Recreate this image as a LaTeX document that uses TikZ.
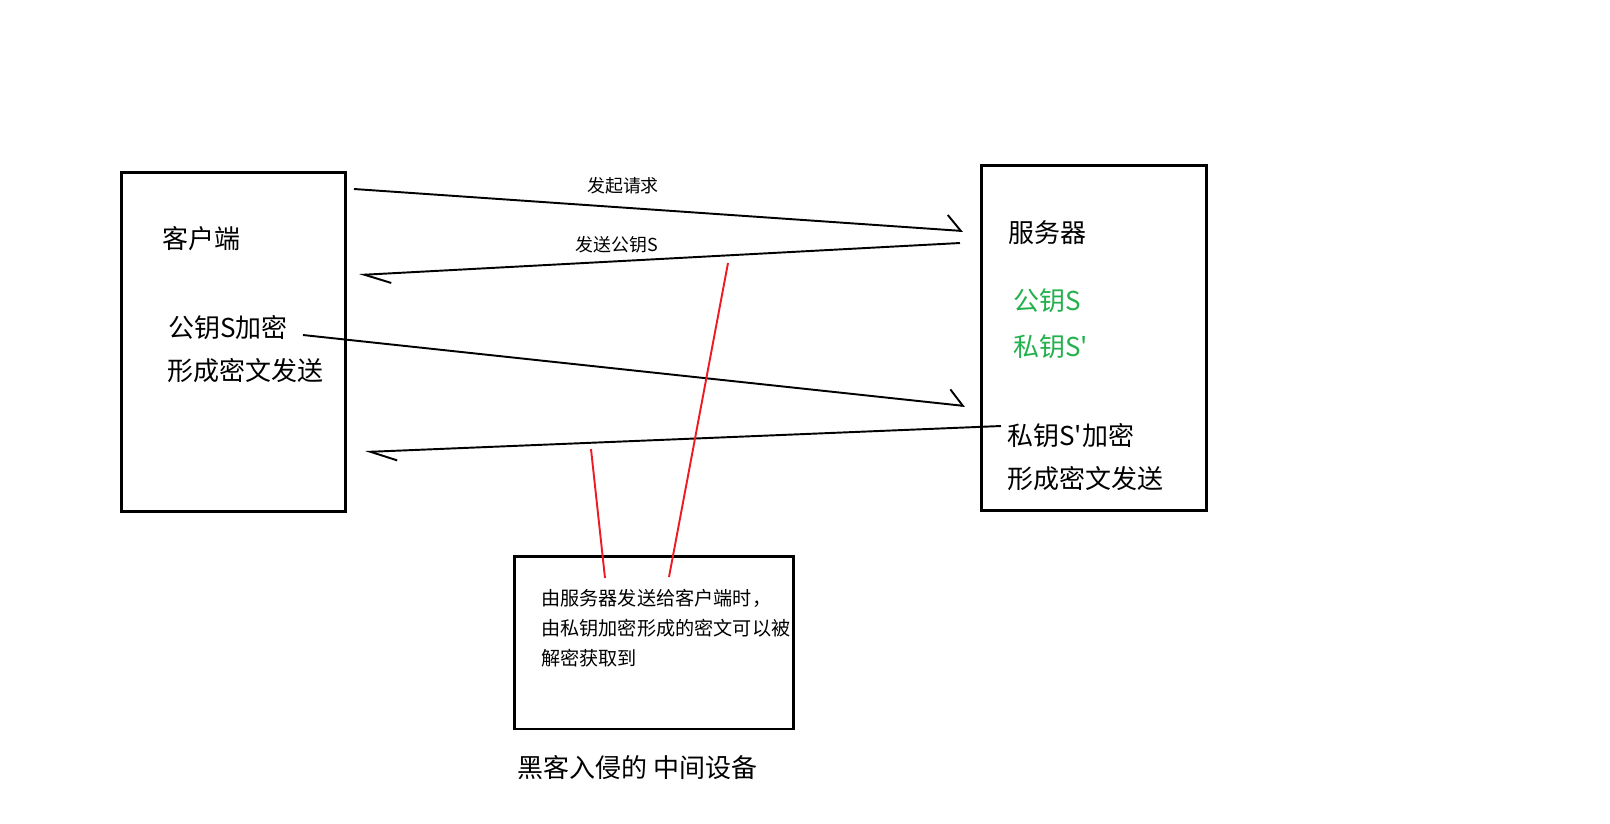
\documentclass[tikz,border=0pt]{standalone}
\usepackage{fontspec}
\newfontfamily\cjk{Noto Sans CJK SC}
\usetikzlibrary{arrows.meta}

\definecolor{paintred}{RGB}{237,28,36}
\definecolor{paintgreen}{RGB}{34,177,76}

\tikzset{
  box/.style={draw, line width=1.7pt, inner sep=0pt},
  txt/.style={inner sep=0pt, anchor=west, font=\cjk\fontsize{14.8}{18}\selectfont},
  msglabel/.style={inner sep=0pt, font=\cjk\fontsize{10.2}{12}\selectfont},
  note/.style={inner sep=0pt, anchor=north west, align=left, font=\cjk\fontsize{10.9}{17}\selectfont},
  msgright/.style={line width=1.1pt, -{Straight Barb[harpoon, length=8pt, width=17pt]}},
  msgleft/.style={line width=1.1pt, -{Straight Barb[harpoon, length=15pt, width=11pt]}},
  spyline/.style={paintred, line width=1.1pt},
}

\begin{document}
\begin{tikzpicture}[x=0.02cm, y=-0.02cm]
  \useasboundingbox (0,0) rectangle (1610,823);

  % Boites
  \node[box, minimum width=4.5cm, minimum height=6.8cm] (client) at (233.5,342) {};
  \node[box, minimum width=4.52cm, minimum height=6.92cm] (server) at (1094,338) {};
  \node[box, minimum width=5.6cm, minimum height=3.46cm] (hacker) at (654,642.5) {};

  % Textes du client
  \node[txt] (clientname) at (162,239) {客户端};
  \node[txt] (clientenc) at (168,328) {公钥S加密};
  \node[txt] (clientsend) at (167,371) {形成密文发送};

  % Textes du serveur
  \node[txt] (servername) at (1008,233) {服务器};
  \node[txt, text=paintgreen] (pubkey) at (1013,301) {公钥S};
  \node[txt, text=paintgreen] (privkey) at (1013,347) {私钥S\textquotesingle};
  \node[txt] (serverenc) at (1007,436) {私钥S\textquotesingle 加密};
  \node[txt] (serversend) at (1007,479) {形成密文发送};

  % Appareil du pirate
  \node[note] (hackernote) at (541,589) {由服务器发送给客户端时，\\由私钥加密形成的密文可以被\\解密获取到};
  \node[txt] (hackername) at (517,768) {黑客入侵的 中间设备};

  % Messages
  \coordinate (req1) at (354,189);
  \coordinate (req2) at (963,231);
  \coordinate (key1) at (960,243);
  \coordinate (key2) at (359,275);
  \coordinate (enc1) at (303,335);
  \coordinate (enc2) at (965,406);
  \coordinate (rep1) at (1001,426);
  \coordinate (rep2) at (365,452);
  \draw[msgright] (req1) -- (req2);
  \draw[msgleft] (key1) -- (key2);
  \draw[msgright] (enc1) -- (enc2);
  \draw[msgleft] (rep1) -- (rep2);
  \node[msglabel] (reqlabel) at (623,186) {发起请求};
  \node[msglabel] (keylabel) at (617,245) {发送公钥S};

  % Ecoute du pirate
  \coordinate (tap1) at (728,263);
  \coordinate (tap2) at (591,449);
  \coordinate (hk1) at (669,577);
  \coordinate (hk2) at (605,578);
  \draw[spyline] (tap1) -- (hk1);
  \draw[spyline] (tap2) -- (hk2);
\end{tikzpicture}
\end{document}
